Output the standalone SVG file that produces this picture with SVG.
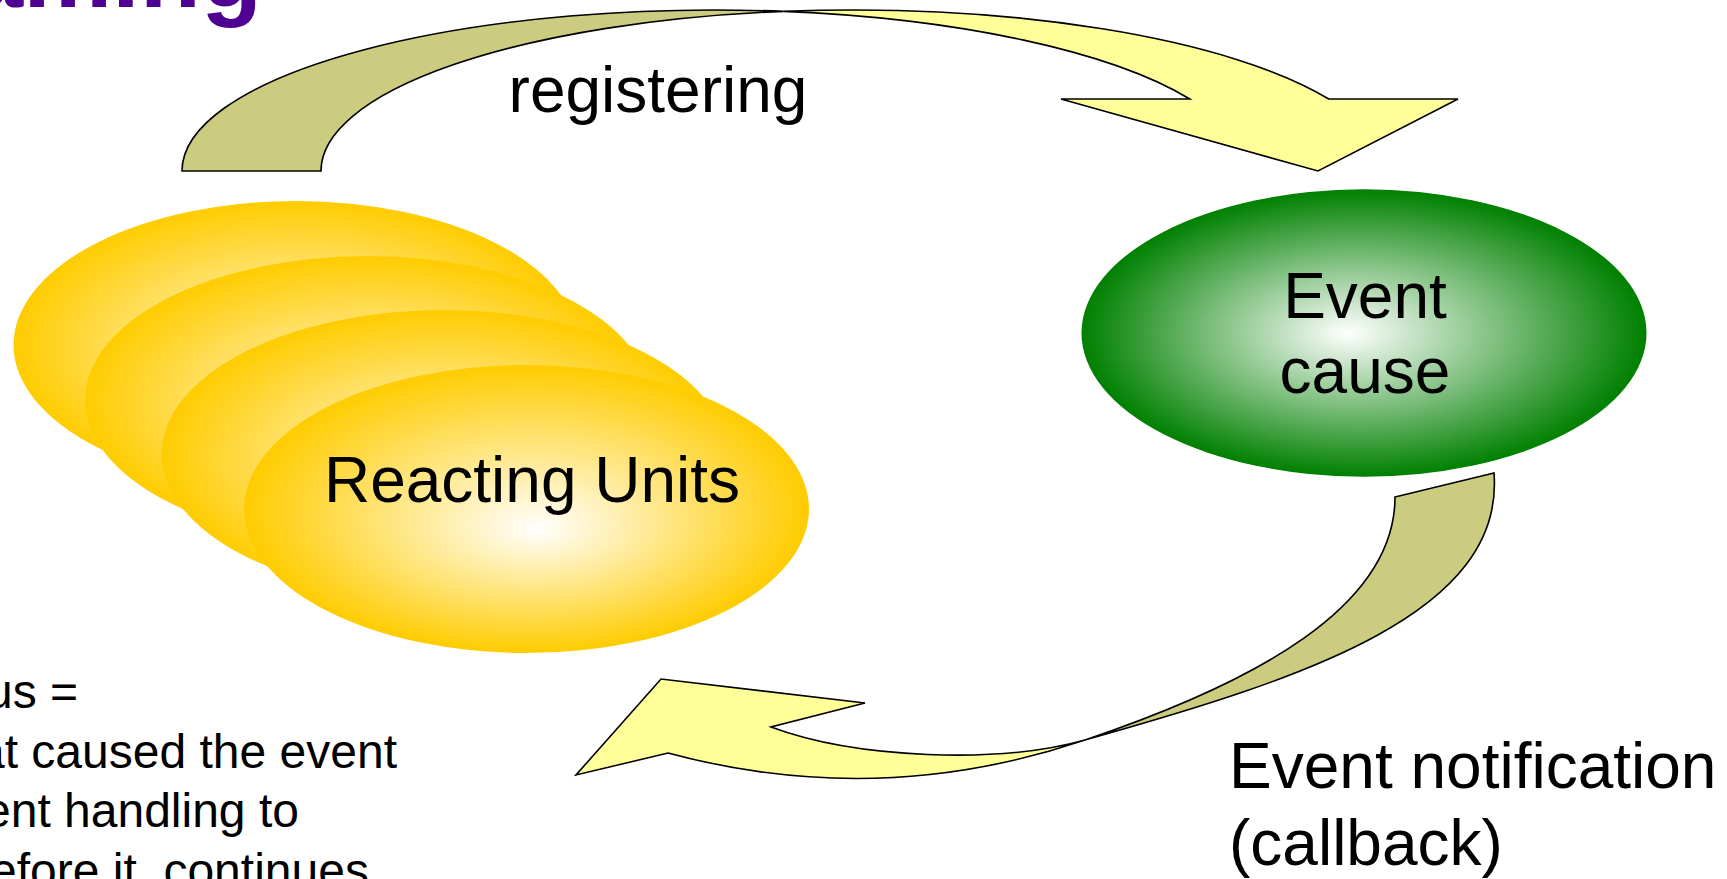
<svg xmlns="http://www.w3.org/2000/svg" width="1727" height="879" viewBox="0 0 1727 879">
  <defs>
    <!-- soft centre-lit fills for the two kinds of node -->
    <radialGradient id="goldFill" cx="0.5" cy="0.5" r="0.5" fx="0.52" fy="0.57">
      <stop offset="0" stop-color="#FFFFFF"/>
      <stop offset="1" stop-color="#FFCC00"/>
    </radialGradient>
    <radialGradient id="greenFill" cx="0.5" cy="0.5" r="0.5" fx="0.47" fy="0.5">
      <stop offset="0" stop-color="#FFFFFF"/>
      <stop offset="1" stop-color="#008000"/>
    </radialGradient>
  </defs>
  <style>
    .label { font-family: "Liberation Sans", Arial, sans-serif; font-size: 64px; fill: #000000; }
    .note  { font-family: "Liberation Sans", Arial, sans-serif; font-size: 48px; fill: #000000; }
    .title { font-family: "Liberation Sans", Arial, sans-serif; font-weight: bold; font-size: 100px; fill: #4F0092; }
    .back  { fill: #CCCC80; stroke: #000000; stroke-width: 1.6; stroke-linejoin: miter; }
    .front { fill: #FFFF99; stroke: #000000; stroke-width: 1.6; stroke-linejoin: miter; }
    .unit  { fill: url(#goldFill); }
  </style>

  <rect x="0" y="0" width="1727" height="879" fill="#FFFFFF"/>

  <!-- slide heading, running off the top-left corner -->
  <text class="title" x="262" y="7" text-anchor="end">aming</text>

  <!-- side note, running off the left edge -->
  <g id="side-note">
    <text class="note" x="-14" y="708">us =</text>
    <text class="note" x="-22" y="768">at caused the event</text>
    <text class="note" x="-16" y="827">ent handling to</text>
    <text class="note" x="-10" y="887" xml:space="preserve">efore it  continues</text>
  </g>

  <!-- stack of reacting units -->
  <g id="reacting-units">
    <ellipse class="unit" cx="296" cy="345" rx="282.5" ry="144"/>
    <ellipse class="unit" cx="367.5" cy="400" rx="282.5" ry="144"/>
    <ellipse class="unit" cx="444" cy="454" rx="282.5" ry="144"/>
    <ellipse class="unit" cx="526.5" cy="509" rx="282.5" ry="144"/>
    <text class="label" x="532" y="502" text-anchor="middle">Reacting Units</text>
  </g>

  <!-- event source -->
  <g id="event-cause">
    <ellipse cx="1364" cy="333" rx="282.5" ry="143.7" fill="url(#greenFill)"/>
    <text class="label" x="1365" y="318" text-anchor="middle">Event</text>
    <text class="label" x="1365" y="393" text-anchor="middle">cause</text>
  </g>

  <g id="connectors">
    <!-- registering: ribbon arrow over the top, from the units to the cause -->
    <g id="registering">
      <path class="back" d="M 182,171 A 532 161 0 0 1 783.5,11.4 A 532 161 0 0 0 321,171 Z"/>
      <path class="front" d="M 783.5,11.4 A 532 161 0 0 1 1328.8,99 L 1458,99 L 1318,171 L 1061,99 L 1189.8,99 A 532 161 0 0 0 783.5,11.4 Z"/>
      <text class="label" x="658" y="112" text-anchor="middle">registering</text>
    </g>
    <!-- notification: ribbon arrow underneath, from the cause back to the units -->
    <g id="notification">
      <path class="back" d="M 1395,497 L 1494,473 C 1505,613 1306,678 1085,740 C 1255.5,682.4 1395,607 1395,497 Z"/>
      <path class="front" d="M 1085,740 C 998.6,764.3 855.6,758.5 771,727 L 865,703 L 661,679 L 576,775 L 668,753 C 812.8,792 952.4,784.8 1085,740 Z"/>
      <text class="label" x="1229" y="788">Event notification</text>
      <text class="label" x="1229" y="865">(callback)</text>
    </g>
  </g>
</svg>
